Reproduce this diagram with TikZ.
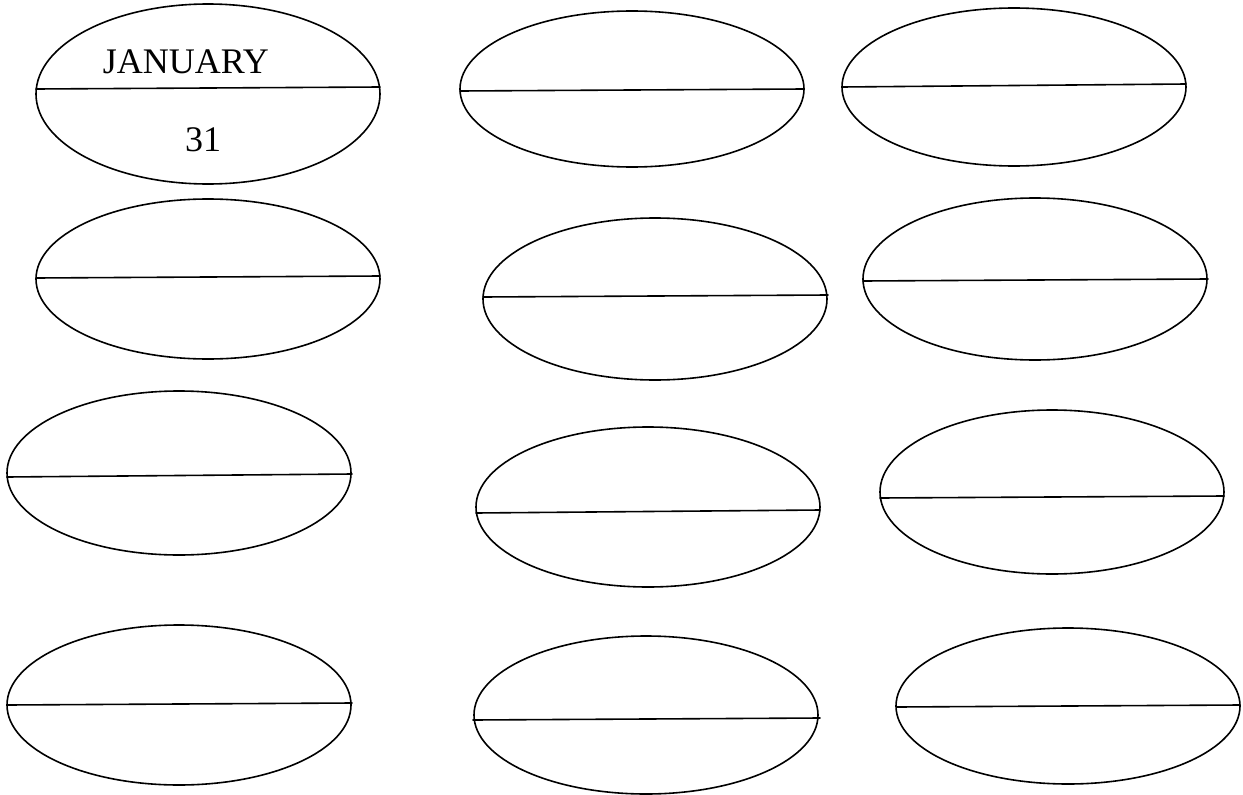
\documentclass[tikz,border=0pt]{standalone}
\usepackage{fontspec}
\setmainfont{Liberation Serif}
\begin{document}
\begin{tikzpicture}[x=1pt,y=-1pt,line join=round,line cap=round]
		\tikzset{oval/.style={draw,line width=1.6pt},
			cut/.style={draw,line width=1.6pt}}
		\def\rx{172}% nửa trục lớn
		\useasboundingbox (0,0) rectangle (1243,795);
		% hàng 1
		\draw[oval] (208,94) ellipse ({\rx} and 90);
		\draw[cut] (36,89)--(380,87);
		\node (thang) at (186,62) {\fontsize{36}{40}\selectfont JANUARY};
		\node (ngay) at (203,140) {\fontsize{36}{40}\selectfont 31};
		\draw[oval] (632,89) ellipse ({\rx} and 78);
		\draw[cut] (460,91)--(804,89);
		\draw[oval] (1014,87) ellipse ({\rx} and 79);
		\draw[cut] (842,87)--(1186,84);
		% hàng 2
		\draw[oval] (208,279) ellipse ({\rx} and 80);
		\draw[cut] (36,278)--(380,276);
		\draw[oval] (655,299) ellipse ({\rx} and 81);
		\draw[cut] (483,297)--(828,295);
		\draw[oval] (1035,279) ellipse ({\rx} and 81);
		\draw[cut] (863,281)--(1208,279);
		% hàng 3
		\draw[oval] (179,473) ellipse ({\rx} and 82);
		\draw[cut] (7,477)--(352,474);
		\draw[oval] (648,507) ellipse ({\rx} and 80);
		\draw[cut] (476,513)--(820,510);
		\draw[oval] (1052,492) ellipse ({\rx} and 82);
		\draw[cut] (880,498)--(1224,496);
		% hàng 4
		\draw[oval] (179,705) ellipse ({\rx} and 80);
		\draw[cut] (7,705)--(352,703);
		\draw[oval] (646,715) ellipse ({\rx} and 79);
		\draw[cut] (473,720)--(820,718);
		\draw[oval] (1068,706) ellipse ({\rx} and 78);
		\draw[cut] (897,707)--(1240,705);
\end{tikzpicture}
\end{document}
